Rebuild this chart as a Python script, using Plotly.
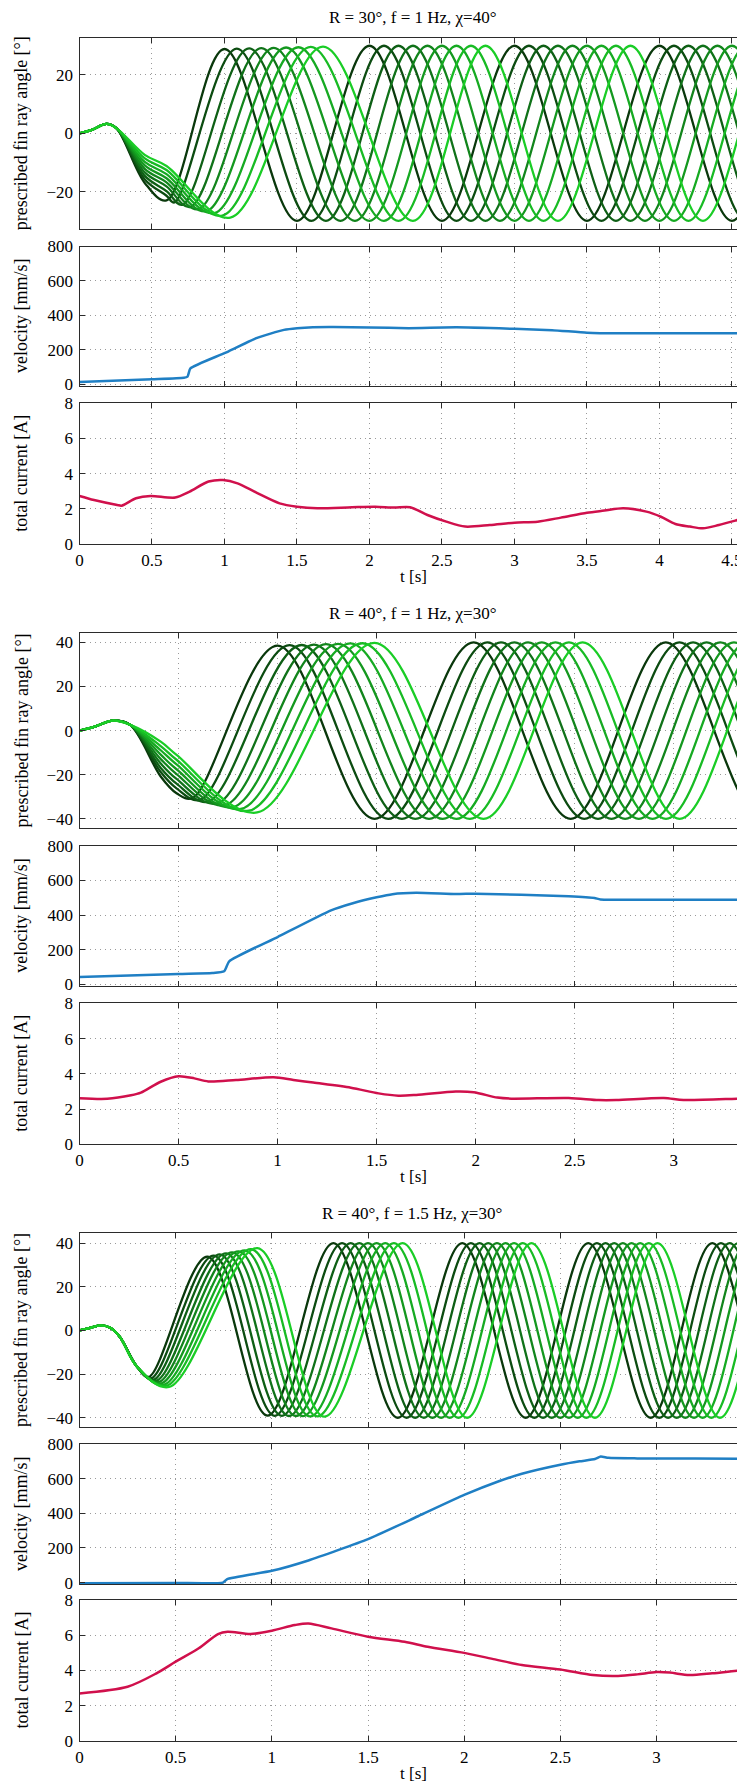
import plotly.graph_objects as go

W, H = 745, 1789
OFF = 8  # default body margin of the page shifts the figure by this many pixels

# ---------------- data ----------------
RAY_COLORS = ["#0a380c", "#0c4c11", "#0e5f15", "#107219", "#12851c", "#14981f",
              "#16aa22", "#18bb24", "#1acd26"]

# ---- panel 1: R = 30°, f = 1 Hz, chi = 40° ----
P1_COMMON_T = [0.0, 0.08, 0.187, 0.256]
P1_COMMON_V = [0.0, 1.1, 3.2, 1.7]
P1_A_T = 0.45
P1_A_V = [-17.0, -15.8, -14.6, -13.4, -12.2, -11.0, -9.8, -8.6, -7.4]
P1_B_T = 0.60
P1_B_V = [None, -21.4, -19.8, -18.2, -16.8, -15.4, -14.0, -12.6, -11.2]
P1_TR_T = [0.60, 0.655, 0.71, 0.765, 0.82, 0.875, 0.93, 0.985, 1.04]
P1_TR_V = [-23.0, -23.7, -24.5, -25.2, -26.0, -26.7, -27.4, -28.2, -28.9]
P1_PK_T = [1.00, 1.085, 1.17, 1.255, 1.34, 1.425, 1.51, 1.595, 1.68]
P1_PK_V = [28.9, 29.0, 29.1, 29.2, 29.3, 29.4, 29.5, 29.6, 29.7]
P1_STEADY_T = [1.5, 2.0, 2.5, 3.0, 3.5, 4.0, 4.5, 5.0, 5.5]
P1_STEADY_V = [-30, 30, -30, 30, -30, 30, -30, 30, -30]
P1_LAG = [0.0, 0.1, 0.2, 0.3, 0.4, 0.5, 0.6, 0.7, 0.8]

P1_VEL_T = [0, 0.5, 0.72, 0.745, 0.765, 1.0, 1.22, 1.41, 1.5, 1.61, 1.75, 2.0, 2.27,
            2.6, 3.0, 3.26, 3.5, 3.72, 4.05, 4.7]
P1_VEL_V = [13, 29, 38, 45, 92, 181, 268, 316, 326, 332, 333, 330, 326,
            331, 322, 314, 300, 296, 296, 296]
P1_CUR_T = [0, 0.1, 0.26, 0.29, 0.39, 0.49, 0.66, 0.76, 0.89, 0.99, 1.09, 1.22, 1.38,
            1.5, 1.64, 1.88, 2.04, 2.17, 2.28, 2.4, 2.53, 2.66, 2.83, 3.0, 3.16, 3.32,
            3.5, 3.62, 3.75, 3.91, 4.01, 4.11, 4.21, 4.3, 4.41, 4.6, 4.7]
P1_CUR_V = [2.73, 2.5, 2.22, 2.18, 2.6, 2.73, 2.64, 2.98, 3.55, 3.64, 3.45, 2.92, 2.31,
            2.12, 2.03, 2.09, 2.12, 2.07, 2.09, 1.65, 1.27, 0.99, 1.08, 1.21, 1.27, 1.5,
            1.78, 1.9, 2.03, 1.84, 1.55, 1.14, 0.99, 0.89, 1.08, 1.5, 1.7]

# ---- panel 2: R = 40°, f = 1 Hz, chi = 30° ----
P2_COMMON_T = [0.0, 0.07, 0.17, 0.256]
P2_COMMON_V = [0.0, 1.6, 4.5, 2.6]
P2_A_T = 0.41
P2_A_V = [-20.8, -18.8, -16.9, -14.9, -12.9, -10.9, -8.9, -7.0, -5.0]
P2_B_T = 0.49
P2_B_V = [-28.4, -26.2, -24.0, -21.9, -19.7, -17.5, -15.3, -13.2, -11.0]
P2_TR_T = [0.57, 0.61, 0.65, 0.695, 0.735, 0.775, 0.815, 0.855, 0.897]
P2_TR_V = [-30.6, -31.4, -32.2, -33.0, -33.8, -34.7, -35.5, -36.3, -37.1]
P2_PK_T = [1.00, 1.061, 1.122, 1.184, 1.245, 1.306, 1.368, 1.429, 1.49]
P2_PK_V = [38.5, 38.7, 38.8, 39.0, 39.2, 39.3, 39.5, 39.6, 39.8]
P2_STEADY_T = [1.49, 1.99, 2.48, 2.96, 3.45, 3.94, 4.43]
P2_STEADY_V = [-40, 40, -40, 40, -40, 40, -40]
P2_LAG = [0.0, 0.069, 0.138, 0.206, 0.275, 0.344, 0.413, 0.481, 0.55]

P2_VEL_T = [0, 0.5, 0.67, 0.73, 0.756, 1.0, 1.27, 1.38, 1.5, 1.58, 1.7, 1.9, 2.0, 2.23,
            2.47, 2.6, 2.63, 3.0, 3.5]
P2_VEL_V = [42, 60, 65, 75, 133, 273, 427, 468, 502, 520, 528, 521, 523, 517,
            508, 498, 490, 488, 488]
P2_CUR_T = [0, 0.14, 0.26, 0.31, 0.41, 0.5, 0.58, 0.65, 0.79, 0.98, 1.08, 1.18, 1.37,
            1.51, 1.61, 1.7, 1.9, 1.99, 2.11, 2.18, 2.47, 2.62, 2.71, 2.95, 3.05, 3.36, 3.5]
P2_CUR_V = [2.61, 2.58, 2.78, 2.93, 3.55, 3.86, 3.74, 3.57, 3.65, 3.8, 3.65, 3.5, 3.21,
            2.89, 2.76, 2.8, 2.99, 2.95, 2.65, 2.59, 2.63, 2.51, 2.51, 2.63, 2.51, 2.6, 2.62]

# ---- panel 3: R = 40°, f = 1.5 Hz, chi = 30° ----
P3_COMMON_T = [0.0, 0.05, 0.11, 0.16, 0.21, 0.30]
P3_COMMON_V = [0.0, 1.1, 2.3, 1.2, -3.0, -16.7]
P3_TR1_T = [0.36, 0.373, 0.386, 0.40, 0.413, 0.426, 0.44, 0.453, 0.466]
P3_TR1_V = [-21.3, -21.9, -22.5, -23.0, -23.6, -24.2, -24.8, -25.3, -25.9]
P3_PK1_T = [0.665, 0.698, 0.73, 0.763, 0.795, 0.828, 0.86, 0.893, 0.925]
P3_PK1_V = [33.8, 34.3, 34.8, 35.3, 35.8, 36.2, 36.7, 37.2, 37.7]
P3_TR2_T = [0.978, 1.015, 1.052, 1.089, 1.126, 1.162, 1.199, 1.236, 1.273]
P3_TR2_V = [-39.0, -39.1, -39.1, -39.2, -39.2, -39.3, -39.4, -39.4, -39.5]
P3_STEADY_T = [1.32, 1.655, 1.99, 2.32, 2.645, 2.97, 3.29, 3.62, 3.95, 4.28]
P3_STEADY_V = [40, -40, 40, -40, 40, -40, 40, -40, 40, -40]
P3_LAG = [0.0, 0.045, 0.09, 0.135, 0.18, 0.225, 0.27, 0.315, 0.36]

P3_VEL_T = [0, 0.5, 0.746, 0.766, 1.0, 1.19, 1.5, 1.76, 2.0, 2.18, 2.3, 2.5, 2.6,
            2.68, 2.71, 2.75, 2.9, 3.2, 3.6]
P3_VEL_V = [-3, -2, 0, 19, 68, 128, 251, 383, 506, 585, 628, 680, 700,
            713, 728, 720, 717, 716, 714]
P3_CUR_T = [0, 0.25, 0.4, 0.5, 0.62, 0.72, 0.77, 0.89, 1.0, 1.12, 1.19, 1.31, 1.5,
            1.69, 1.81, 2.0, 2.16, 2.3, 2.5, 2.67, 2.8, 2.9, 3.0, 3.07, 3.17, 3.29, 3.46, 3.6]
P3_CUR_V = [2.7, 3.08, 3.84, 4.5, 5.26, 6.07, 6.2, 6.07, 6.26, 6.58, 6.67, 6.39, 5.92,
            5.63, 5.35, 5.0, 4.63, 4.31, 4.06, 3.74, 3.69, 3.78, 3.91, 3.88, 3.74, 3.84, 4.03, 4.1]

TITLES = ["R = 30°, f = 1 Hz, χ=40°", "R = 40°, f = 1 Hz, χ=30°", "R = 40°, f = 1.5 Hz, χ=30°"]
YTITLES = ["prescribed fin ray angle [°]", "velocity [mm/s]", "total current [A]"]
XMAX_AT_EDGE = [4.59, 3.36, 3.46]   # time value at the right edge of the picture
ANGLE_RANGE = [[-32.8, 32.8], [-44.0, 44.1], [-44.1, 44.5]]
ANGLE_TICKS = [[-20, 0, 20], [-40, -20, 0, 20, 40], [-40, -20, 0, 20, 40]]
VEL_RANGE = [-8, 800]
VEL_TICKS = [0, 200, 400, 600, 800]
CUR_RANGE = [0, 8]
CUR_TICKS = [0, 2, 4, 6, 8]
XTICKS = [0, 0.5, 1, 1.5, 2, 2.5, 3, 3.5, 4, 4.5]

# ---------------- layout geometry (pixels in the final picture) ----------------
PLOT_LEFT = 79.5
BOXES = [
    [(37.6, 229.0), (246.5, 385.7), (403.3, 544.0)],
    [(633.3, 827.7), (845.7, 985.7), (1003.3, 1144.3)],
    [(1233.3, 1426.7), (1444.0, 1584.0), (1600.0, 1741.0)],
]

FONT = "Liberation Serif"
AX_COLOR = "#2b2b2b"
GRID_COLOR = "#9a9a9a"
GRID_DASH = "1px,4px"
VEL_COLOR = "#1f7fc4"
CUR_COLOR = "#d0104c"


def build_rays(common_t, common_v, columns, steady_t, steady_v, lag):
    rays = []
    for k in range(len(lag)):
        ts = list(common_t)
        vs = list(common_v)
        for ct, cv in columns:
            t = ct[k] if isinstance(ct, list) else ct
            v = cv[k]
            if v is None:
                continue
            ts.append(t)
            vs.append(v)
        for t, v in zip(steady_t, steady_v):
            ts.append(t + lag[k])
            vs.append(v)
        rays.append((ts, vs))
    return rays


RAYS = [
    build_rays(P1_COMMON_T, P1_COMMON_V,
               [(P1_A_T, P1_A_V), (P1_B_T, P1_B_V), (P1_TR_T, P1_TR_V), (P1_PK_T, P1_PK_V)],
               P1_STEADY_T, P1_STEADY_V, P1_LAG),
    build_rays(P2_COMMON_T, P2_COMMON_V,
               [(P2_A_T, P2_A_V), (P2_B_T, P2_B_V), (P2_TR_T, P2_TR_V), (P2_PK_T, P2_PK_V)],
               P2_STEADY_T, P2_STEADY_V, P2_LAG),
    build_rays(P3_COMMON_T, P3_COMMON_V,
               [(P3_TR1_T, P3_TR1_V), (P3_PK1_T, P3_PK1_V), (P3_TR2_T, P3_TR2_V)],
               P3_STEADY_T, P3_STEADY_V, P3_LAG),
]
VEL = [(P1_VEL_T, P1_VEL_V), (P2_VEL_T, P2_VEL_V), (P3_VEL_T, P3_VEL_V)]
CUR = [(P1_CUR_T, P1_CUR_V), (P2_CUR_T, P2_CUR_V), (P3_CUR_T, P3_CUR_V)]

fig = go.Figure()
layout = dict(
    width=W, height=H, margin=dict(l=0, r=0, t=0, b=0, autoexpand=False),
    paper_bgcolor="white", plot_bgcolor="white", showlegend=False,
    font=dict(family=FONT, size=17, color="black"),
)
annotations = []


def px_x(x):
    return (x - OFF) / W


def px_y(y):
    return 1 - (y - OFF) / H


x0 = px_x(PLOT_LEFT)
right_px = W + OFF  # right edge of the figure in picture pixels
for p in range(3):
    xmax = XMAX_AT_EDGE[p] * (right_px - PLOT_LEFT) / (W - PLOT_LEFT)
    for r in range(3):
        i = p * 3 + r + 1
        xa = "x" if i == 1 else f"x{i}"
        ya = "y" if i == 1 else f"y{i}"
        top, bot = BOXES[p][r]
        layout[f"xaxis{i}"] = dict(
            domain=[x0, 1], range=[0, xmax], anchor=ya, automargin=False,
            tickvals=XTICKS, showticklabels=(r == 2), ticks="inside", ticklen=5,
            tickcolor=AX_COLOR, showline=True, linecolor=AX_COLOR, linewidth=1.2,
            mirror="ticks", showgrid=True, gridcolor=GRID_COLOR, griddash=GRID_DASH,
            gridwidth=1, zeroline=False, tickfont=dict(size=17, family=FONT),
        )
        if r == 0:
            yr, yt = ANGLE_RANGE[p], ANGLE_TICKS[p]
        elif r == 1:
            yr, yt = VEL_RANGE, VEL_TICKS
        else:
            yr, yt = CUR_RANGE, CUR_TICKS
        layout[f"yaxis{i}"] = dict(
            domain=[px_y(bot), px_y(top)], range=yr, anchor=xa, tickvals=yt, automargin=False,
            ticks="inside", ticklen=5, tickcolor=AX_COLOR, showline=True,
            linecolor=AX_COLOR, linewidth=1.2, mirror=False, showgrid=True,
            gridcolor=GRID_COLOR, griddash=GRID_DASH, gridwidth=1, zeroline=False,
            tickfont=dict(size=17, family=FONT), ticklabelstandoff=2,
        )
        annotations.append(dict(
            text=YTITLES[r], x=px_x(21), y=px_y((top + bot) / 2), xref="paper", yref="paper",
            xanchor="center", yanchor="middle", textangle=-90, showarrow=False,
            font=dict(size=18, family=FONT),
        ))
        if r == 0:
            for k, (ts, vs) in enumerate(RAYS[p]):
                fig.add_trace(go.Scatter(
                    x=ts, y=vs, mode="lines", xaxis=xa, yaxis=ya,
                    line=dict(color=RAY_COLORS[k], width=2.3, shape="spline", smoothing=1.0),
                    hoverinfo="skip"))
        elif r == 1:
            fig.add_trace(go.Scatter(
                x=VEL[p][0], y=VEL[p][1], mode="lines", xaxis=xa, yaxis=ya,
                line=dict(color=VEL_COLOR, width=2.5, shape="spline", smoothing=0.5)))
        else:
            fig.add_trace(go.Scatter(
                x=CUR[p][0], y=CUR[p][1], mode="lines", xaxis=xa, yaxis=ya,
                line=dict(color=CUR_COLOR, width=2.5, shape="spline", smoothing=0.8)))
    top0 = BOXES[p][0][0]
    bot2 = BOXES[p][2][1]
    annotations.append(dict(
        text=TITLES[p], x=px_x(412), y=px_y(top0 - 20), xref="paper", yref="paper",
        xanchor="center", yanchor="middle", showarrow=False, font=dict(size=17, family=FONT)))
    annotations.append(dict(
        text="t [s]", x=px_x(413), y=px_y(bot2 + 32), xref="paper", yref="paper",
        xanchor="center", yanchor="middle", showarrow=False, font=dict(size=17, family=FONT)))

layout["annotations"] = annotations
fig.update_layout(**layout)
fig.write_html("out.html")
